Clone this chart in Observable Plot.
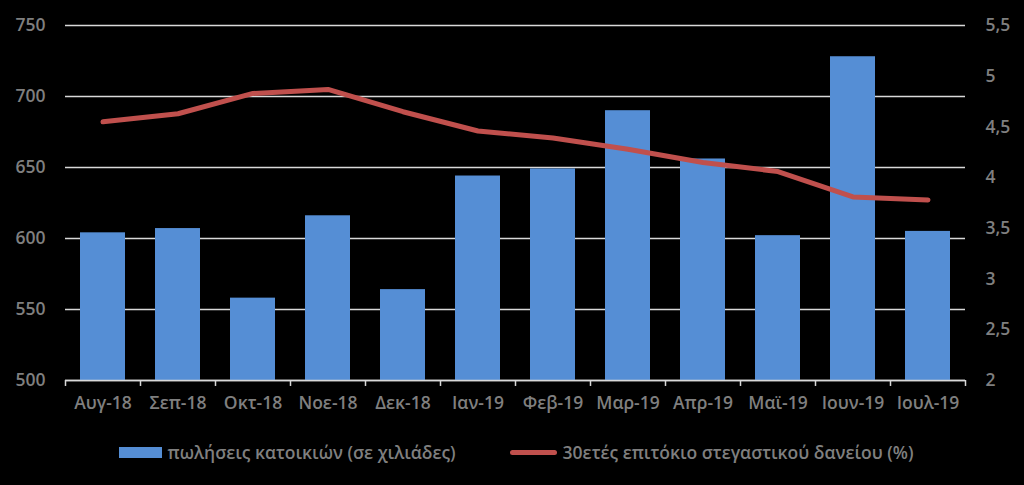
<!DOCTYPE html>
<html>
<head>
<meta charset="utf-8">
<script src="https://cdn.jsdelivr.net/npm/d3@7"></script>
<script src="https://cdn.jsdelivr.net/npm/@observablehq/plot@0.6"></script>
<style>
  html, body { margin: 0; padding: 0; background: #000; }
  #chart { width: 1024px; height: 485px; overflow: hidden; }
  .legend { display: flex; justify-content: center; align-items: center; gap: 54px;
            font-family: "Open Sans", sans-serif; font-weight: 600; font-size: 17.5px; color: #7f7f7f;
            height: 46px; padding-left: 8px; box-sizing: border-box; }
  .item { display: flex; align-items: center; gap: 6px; }
  .sw-bar { width: 43px; height: 11px; background: #558ED5; }
  .sw-line { width: 47px; height: 5px; border-radius: 3px; background: #C0504D; }
</style>
</head>
<body>
<div id="chart"></div>
<script>
const months = ["Αυγ-18","Σεπ-18","Οκτ-18","Νοε-18","Δεκ-18","Ιαν-19","Φεβ-19","Μαρ-19","Απρ-19","Μαϊ-19","Ιουν-19","Ιουλ-19"];
const sales = [604, 607, 558, 616, 564, 644, 649, 690, 656, 602, 728, 605];
const rates = [4.55, 4.63, 4.83, 4.87, 4.65, 4.46, 4.39, 4.28, 4.15, 4.06, 3.81, 3.78];
const leftTicks = [500, 550, 600, 650, 700, 750];
const rightTicks = [2, 2.5, 3, 3.5, 4, 4.5, 5, 5.5];
const salesLabel = "πωλήσεις κατοικιών (σε χιλιάδες)";
const rateLabel = "30ετές επιτόκιο στεγαστικού δανείου (%)";

const L0 = 500, L1 = 750, R0 = 2, R1 = 5.5;
const toLeft = v => L0 + (v - R0) * (L1 - L0) / (R1 - R0);
const fromLeft = d => R0 + (d - L0) * (R1 - R0) / (L1 - L0);
const fmtComma = v => String(Math.round(v * 10) / 10).replace(".", ",");

const W = 1024, H = 429, ML = 65, MR = 59, MT = 25, MB = 49;
const band = (W - ML - MR) / months.length;

const barData = months.map((m, i) => ({month: m, value: sales[i]}));
const lineData = months.map((m, i) => ({month: m, rate: rates[i], y: toLeft(rates[i])}));

const plot = Plot.plot({
  width: W, height: H,
  marginLeft: ML, marginRight: MR, marginTop: MT, marginBottom: MB,
  style: {background: "#000", color: "#7f7f7f", fontFamily: "'Open Sans', sans-serif", fontSize: "17.5px", fontWeight: 600},
  x: {type: "band", domain: months, padding: 0, label: null},
  y: {domain: [L0, L1], label: null},
  marks: [
    Plot.gridY(leftTicks, {stroke: "#d9d9d9", strokeOpacity: 1, strokeWidth: 1.5}),
    Plot.barY(barData, {x: "month", y1: L0, y2: "value", fill: "#558ED5", insetLeft: 15, insetRight: 15}),
    Plot.ruleY([L0], {stroke: "#d9d9d9", strokeWidth: 1.5}),
    Plot.ruleX(months, {x: d => d, dx: -band / 2, y1: L0, y2: L0 - 4.2, stroke: "#d9d9d9", strokeWidth: 1.5}),
    Plot.ruleX([months[months.length - 1]], {x: d => d, dx: band / 2, y1: L0, y2: L0 - 4.2, stroke: "#d9d9d9", strokeWidth: 1.5}),
    Plot.line(lineData, {x: "month", y: "y", stroke: "#C0504D", strokeWidth: 5, strokeLinecap: "round", strokeLinejoin: "round"}),
    Plot.axisY(leftTicks, {anchor: "left", tickSize: 0, tickPadding: 20, label: null}),
    Plot.axisY(rightTicks.map(toLeft), {anchor: "right", tickSize: 0, tickPadding: 20, label: null, tickFormat: d => fmtComma(fromLeft(d))}),
    Plot.axisX({tickSize: 0, tickPadding: 16, label: null})
  ]
});

const chart = document.getElementById("chart");
chart.appendChild(plot);
const legend = document.createElement("div");
legend.className = "legend";
legend.innerHTML = `<div class="item"><div class="sw-bar"></div><span>${salesLabel}</span></div>` +
                   `<div class="item"><div class="sw-line"></div><span>${rateLabel}</span></div>`;
chart.appendChild(legend);
</script>
</body>
</html>
